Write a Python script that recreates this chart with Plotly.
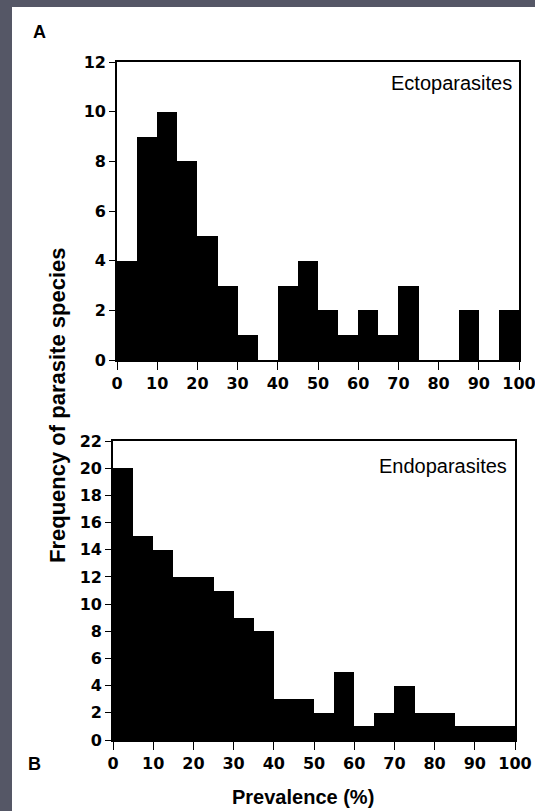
import plotly.graph_objects as go

# Prevalence classes (5 % bins) and number of parasite species per class
bin_centres = [2.5 + 5 * i for i in range(20)]
ecto_counts = [4, 9, 10, 8, 5, 3, 1, 0, 3, 4, 2, 1, 2, 1, 3, 0, 0, 2, 0, 2]
endo_counts = [20, 15, 14, 12, 12, 11, 9, 8, 3, 3, 2, 5, 1, 2, 4, 2, 2, 1, 1, 1]

x_ticks = list(range(0, 101, 10))
ecto_yticks = list(range(0, 13, 2))
endo_yticks = list(range(0, 23, 2))

W, H = 535, 811
FONT = "Liberation Sans, Arial, Helvetica, sans-serif"
TICK_FONT = "DejaVu Sans, Verdana, sans-serif"


def px_x(p):
    return p / W


def px_y(p):
    return 1 - p / H


fig = go.Figure()
fig.add_trace(go.Bar(x=bin_centres, y=ecto_counts, width=5, marker=dict(color="black", line=dict(width=0)),
                     xaxis="x", yaxis="y", showlegend=False))
fig.add_trace(go.Bar(x=bin_centres, y=endo_counts, width=5, marker=dict(color="black", line=dict(width=0)),
                     xaxis="x2", yaxis="y2", showlegend=False))

axis_common = dict(showline=True, linecolor="black", linewidth=1.6, mirror=True, showgrid=False,
                   zeroline=False, ticks="outside", tickcolor="black", tickwidth=1.4,
                   automargin=False, ticklabeloverflow="allow")
xfont = dict(family=TICK_FONT, size=16, color="black", weight="bold")
yfont = dict(family=TICK_FONT, size=16, color="black", weight="bold")

fig.update_layout(
    template="none",
    width=W, height=H, margin=dict(l=0, r=0, t=0, b=0, pad=0), autosize=False,
    paper_bgcolor="#555766", plot_bgcolor="white", bargap=0,
    font=dict(family=FONT, color="black"),
    xaxis=dict(**axis_common, domain=[px_x(117), px_x(519)], range=[0, 100], tickvals=x_ticks,
               ticklen=8, tickfont=xfont, anchor="y"),
    yaxis=dict(**axis_common, domain=[px_y(360), px_y(62)], range=[0, 12], tickvals=ecto_yticks,
               ticklen=6, tickfont=yfont, anchor="x"),
    xaxis2=dict(**axis_common, domain=[px_x(113), px_x(515)], range=[0, 100], tickvals=x_ticks,
                ticklen=8, tickfont=xfont, anchor="y2"),
    yaxis2=dict(**axis_common, domain=[px_y(740), px_y(441)], range=[0, 22], tickvals=endo_yticks,
                ticklen=6, tickfont=yfont, anchor="x2"),
    shapes=[dict(type="rect", xref="paper", yref="paper", x0=px_x(12), x1=1, y0=0, y1=px_y(7),
                 fillcolor="white", line=dict(width=0), layer="below")],
    annotations=[
        dict(text="Ectoparasites", x=px_x(514), y=px_y(83), xref="paper", yref="paper",
             xanchor="right", yanchor="middle", showarrow=False, font=dict(size=20, family=FONT)),
        dict(text="Endoparasites", x=px_x(509), y=px_y(466), xref="paper", yref="paper",
             xanchor="right", yanchor="middle", showarrow=False, font=dict(size=20, family=FONT)),
        dict(text="<b>A</b>", x=px_x(39), y=px_y(32), xref="paper", yref="paper",
             xanchor="center", yanchor="middle", showarrow=False, font=dict(size=18, family=FONT)),
        dict(text="<b>B</b>", x=px_x(34), y=px_y(764), xref="paper", yref="paper",
             xanchor="center", yanchor="middle", showarrow=False, font=dict(size=18, family=FONT)),
        dict(text="<b>Prevalence (%)</b>", x=px_x(303), y=px_y(797), xref="paper", yref="paper",
             xanchor="center", yanchor="middle", showarrow=False, font=dict(size=20, family=FONT)),
        dict(text="<b>Frequency of parasite species</b>", x=px_x(57), y=px_y(406), xref="paper",
             yref="paper", xanchor="center", yanchor="middle", textangle=-90, showarrow=False,
             font=dict(size=22, family=FONT)),
    ],
)

fig.write_html("out.html")
